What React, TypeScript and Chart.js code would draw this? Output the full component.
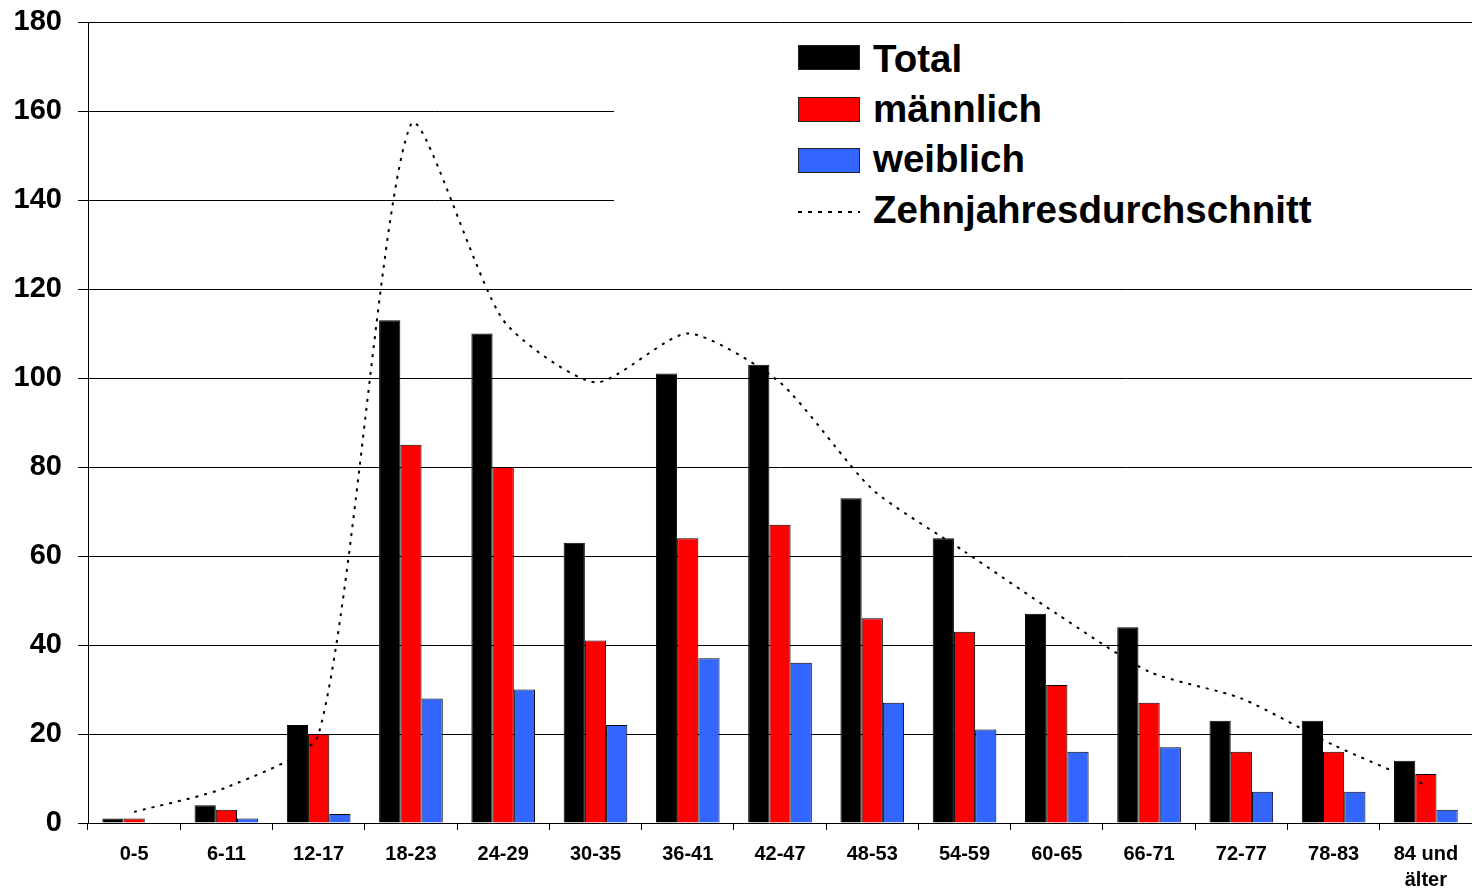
import React, { useEffect, useRef } from "react";
import { Chart, registerables } from "chart.js";

Chart.register(...registerables);

const categories: (string | string[])[] = [
  "0-5", "6-11", "12-17", "18-23", "24-29", "30-35", "36-41", "42-47",
  "48-53", "54-59", "60-65", "66-71", "72-77", "78-83", ["84 und", "älter"],
];
const totalValues = [1, 4, 22, 113, 110, 63, 101, 103, 73, 64, 47, 44, 23, 23, 14];
const maleValues = [1, 3, 20, 85, 80, 41, 64, 67, 46, 43, 31, 27, 16, 16, 11];
const femaleValues = [0, 1, 2, 28, 30, 22, 37, 36, 27, 21, 16, 17, 7, 7, 3];
const averageValues = [2.5, 8, 20, 157, 113, 99, 110, 99, 75, 61, 47, 34, 28, 17.5, 8.5];
const yTicks = { min: 0, max: 180, step: 20 };

const FONT = "'Liberation Sans', Arial, sans-serif";

export default function App() {
  const ref = useRef<HTMLCanvasElement | null>(null);

  useEffect(() => {
    document.body.style.margin = "0";
    const canvas = ref.current;
    if (!canvas) return;
    const chart = new Chart(canvas, {
      type: "bar",
      data: {
        labels: categories as any,
        datasets: [
          {
            type: "line" as any,
            label: "Zehnjahresdurchschnitt",
            data: averageValues,
            borderColor: "#000",
            borderWidth: 2,
            borderDash: [3, 6],
            pointRadius: 0,
            tension: 0.22,
            fill: false,
            order: 0,
          } as any,
          {
            label: "Total",
            data: totalValues,
            backgroundColor: "#000000",
            borderColor: "#000",
            borderWidth: 1,
            categoryPercentage: 0.69,
            barPercentage: 1.0,
            order: 1,
          },
          {
            label: "männlich",
            data: maleValues,
            backgroundColor: "#FF0000",
            borderColor: "#000",
            borderWidth: 1,
            categoryPercentage: 0.69,
            barPercentage: 1.0,
            order: 1,
          },
          {
            label: "weiblich",
            data: femaleValues,
            backgroundColor: "#3366FF",
            borderColor: "#000",
            borderWidth: 1,
            categoryPercentage: 0.69,
            barPercentage: 1.0,
            order: 1,
          },
        ],
      },
      options: {
        responsive: false,
        animation: false,
        layout: { padding: { top: 22, left: 0, right: 0, bottom: 0 } },
        plugins: {
          legend: { display: false },
          tooltip: { enabled: false },
        },
        scales: {
          x: {
            grid: {
              drawOnChartArea: false,
              color: "#000",
              tickLength: 7,
              offset: true,
            },
            border: { color: "#000", width: 1 },
            ticks: {
              color: "#000",
              font: { family: FONT, size: 20, weight: "bold", lineHeight: 1.3 },
              padding: 11,
              maxRotation: 0,
              minRotation: 0,
              autoSkip: false,
            },
            afterFit: (s: any) => {
              s.height = 68;
              s.paddingLeft = 0;
              s.paddingRight = 0;
            },
          },
          y: {
            min: yTicks.min,
            max: yTicks.max,
            grid: { color: "#000", tickLength: 10, lineWidth: 1 },
            border: { color: "#000", width: 1 },
            ticks: {
              stepSize: yTicks.step,
              color: "#000",
              font: { family: FONT, size: 29, weight: "bold" },
              padding: 16,
            },
            afterFit: (s: any) => {
              s.width = 88;
              s.paddingTop = 0;
              s.paddingBottom = 0;
            },
          },
        },
      },
    });
    return () => chart.destroy();
  }, []);

  const textStyle: React.CSSProperties = {
    position: "absolute",
    left: 873 - 614,
    fontFamily: FONT,
    fontWeight: "bold",
    fontSize: 38.5,
    lineHeight: "38px",
    color: "#000",
    whiteSpace: "nowrap",
  };
  const swatch = (top: number, color: string): React.CSSProperties => ({
    position: "absolute",
    left: 798 - 614,
    top: top - 23,
    width: 62,
    height: 25,
    boxSizing: "border-box",
    background: color,
    border: "1px solid #222",
  });

  return (
    <div style={{ position: "relative", width: 1472, height: 891 }}>
      <canvas ref={ref} width={1472} height={891} style={{ display: "block" }} />
      <div
        style={{
          position: "absolute",
          left: 614,
          top: 23,
          width: 858,
          height: 263,
          background: "#fff",
        }}
      >
        <div style={swatch(45, "#000")} />
        <div style={{ ...textStyle, top: 72 - 32 - 23 }}>Total</div>
        <div style={swatch(97, "#FF0000")} />
        <div style={{ ...textStyle, top: 122 - 32 - 23 }}>männlich</div>
        <div style={swatch(148, "#3366FF")} />
        <div style={{ ...textStyle, top: 172 - 32 - 23 }}>weiblich</div>
        <div
          style={{
            position: "absolute",
            left: 798 - 614,
            top: 211 - 23,
            width: 62,
            height: 2,
            background:
              "repeating-linear-gradient(to right, #000 0px, #000 4px, transparent 4px, transparent 10px)",
          }}
        />
        <div style={{ ...textStyle, top: 223 - 32 - 23 }}>Zehnjahresdurchschnitt</div>
      </div>
    </div>
  );
}
